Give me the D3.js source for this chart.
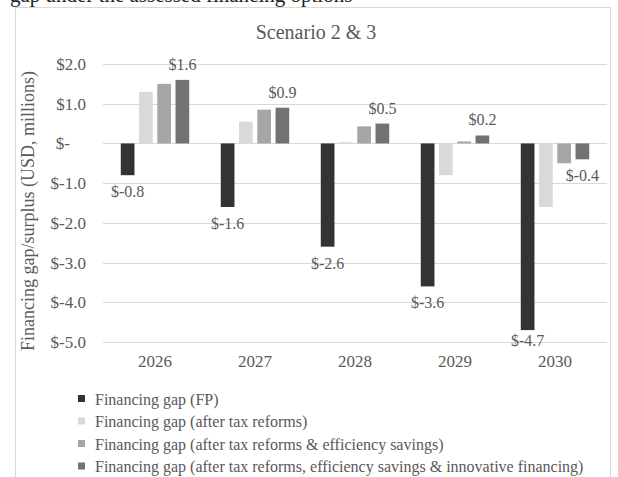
<!DOCTYPE html>
<html>
<head>
<meta charset="utf-8">
<script src="https://cdn.jsdelivr.net/npm/d3@7"></script>
<style>
  html, body { margin: 0; padding: 0; background: #fff; }
  svg { display: block; }
  svg text { font-family: "Liberation Serif", "Times New Roman", serif !important; }
</style>
</head>
<body>
<svg id="chart" width="618" height="477"></svg>
<script>
// Financing gap / surplus by year (USD, millions)
const years = ["2026", "2027", "2028", "2029", "2030"];
const seriesNames = [
  "Financing gap (FP)",
  "Financing gap (after tax reforms)",
  "Financing gap (after tax reforms & efficiency savings)",
  "Financing gap (after tax reforms, efficiency savings & innovative financing)"
];
const gapFP        = [-0.8, -1.6, -2.6, -3.6, -4.7];
const gapTax       = [ 1.3,  0.55, 0.03, -0.8, -1.6];
const gapTaxEff    = [ 1.5,  0.85, 0.43, 0.05, -0.5];
const gapTaxEffInn = [ 1.6,  0.9,  0.5,  0.2,  -0.4];
const yTicks = [2, 1, 0, -1, -2, -3, -4, -5];
const seriesColors = ["#333333", "#d9d9d9", "#a6a6a6", "#727272"];

const allSeries = [gapFP, gapTax, gapTaxEff, gapTaxEffInn];
const svg = d3.select("#chart");
const textGray = "#595959";
const serif = '"Liberation Serif", "Times New Roman", serif';

// caption line running off the top of the page
svg.append("text")
  .attr("x", 10).attr("y", 2)
  .attr("font-size", 21).attr("fill", "#222")
  .text("gap under the assessed financing options");

// chart frame
svg.append("rect")
  .attr("x", 15.5).attr("y", 7.5)
  .attr("width", 595).attr("height", 480)
  .attr("fill", "none").attr("stroke", "#d9d9d9");

// title
svg.append("text")
  .attr("x", 316).attr("y", 39)
  .attr("text-anchor", "middle")
  .attr("font-size", 20).attr("fill", textGray)
  .text("Scenario 2 & 3");

const x0 = d3.scaleBand().domain(years).range([105, 605])
  .paddingInner(0.27).paddingOuter(0.135);
const x1 = d3.scaleBand().domain(d3.range(seriesNames.length))
  .range([0, x0.bandwidth()]).paddingInner(0.25).paddingOuter(0.125);
const y = d3.scaleLinear().domain([-5, 2]).range([342, 64]);

// accounting-style labels with a plain hyphen for negatives
const fmt = v => v === 0 ? "$-" : (v < 0 ? "$-" : "$") + Math.abs(v).toFixed(1);

// gridlines
svg.append("g").selectAll("line").data(yTicks).join("line")
  .attr("x1", 103).attr("x2", 607)
  .attr("y1", d => Math.round(y(d)) + 0.5).attr("y2", d => Math.round(y(d)) + 0.5)
  .attr("stroke", "#d9d9d9").attr("stroke-width", 1);

// y axis tick labels
const yAxis = d3.axisLeft(y).tickValues(yTicks).tickSize(0).tickPadding(0)
  .tickFormat(fmt);
const yG = svg.append("g").attr("transform", "translate(86,0)").call(yAxis)
  .attr("font-family", serif);
yG.select(".domain").remove();
yG.selectAll("text")
  .style("font-family", serif)
  .attr("font-size", 17).attr("fill", textGray)
  .attr("dx", d => d === 0 ? -16 : 0);

// x axis labels
const xAxis = d3.axisBottom(x0).tickSize(0).tickPadding(0);
const xG = svg.append("g").attr("transform", "translate(0,355)").call(xAxis)
  .attr("font-family", serif);
xG.select(".domain").remove();
xG.selectAll("text")
  .style("font-family", serif)
  .attr("font-size", 17).attr("fill", textGray)
  .attr("dy", "0.71em");

// y axis title
svg.append("text")
  .attr("transform", "translate(34,211) rotate(-90)")
  .attr("text-anchor", "middle")
  .attr("font-size", 18).attr("fill", textGray)
  .text("Financing gap/surplus (USD, millions)");

// bars
const groups = svg.append("g").selectAll("g").data(years).join("g")
  .attr("transform", d => `translate(${x0(d)},0)`);
groups.selectAll("rect")
  .data((yr, i) => allSeries.map((s, k) => ({ k, v: s[i] })))
  .join("rect")
  .attr("x", d => x1(d.k))
  .attr("width", x1.bandwidth())
  .attr("y", d => y(Math.max(0, d.v)))
  .attr("height", d => Math.abs(y(d.v) - y(0)))
  .attr("fill", d => seriesColors[d.k]);

// data labels on the first and last series
const labelled = [0, 3];
labelled.forEach(k => {
  svg.append("g").selectAll("text").data(years).join("text")
    .attr("x", (yr) => x0(yr) + x1(k) + x1.bandwidth() / 2)
    .attr("y", (yr, i) => {
      const v = allSeries[k][i];
      return v >= 0 ? y(v) - 10 : Math.min(y(v) + 22, 346);
    })
    .attr("text-anchor", "middle")
    .attr("font-size", 16).attr("fill", textGray)
    .text((yr, i) => fmt(allSeries[k][i]));
});

// legend
const legend = svg.append("g").selectAll("g").data(seriesNames).join("g")
  .attr("transform", (d, i) => `translate(78,${399 + i * 22.5})`);
legend.append("rect")
  .attr("x", 0).attr("y", -4).attr("width", 7).attr("height", 7)
  .attr("fill", (d, i) => seriesColors[i]);
legend.append("text")
  .attr("x", 17).attr("y", 0).attr("dy", "0.35em")
  .attr("font-size", 16).attr("fill", textGray)
  .text(d => d);
</script>
</body>
</html>
